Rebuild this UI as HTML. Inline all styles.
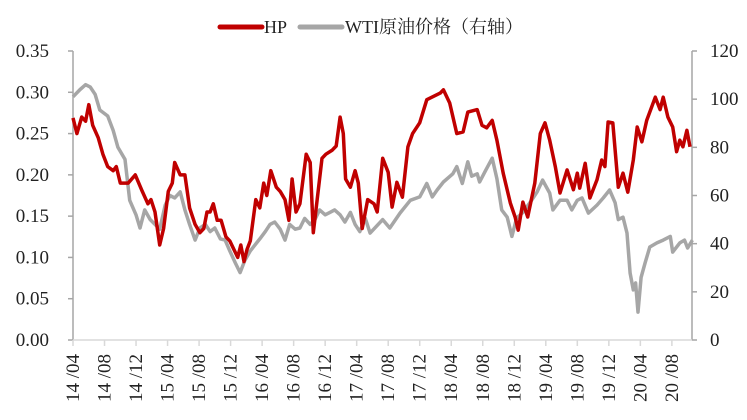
<!DOCTYPE html>
<html><head><meta charset="utf-8"><style>
html,body{margin:0;padding:0;background:#fff;}
svg{display:block;font-family:'Liberation Serif','Noto Serif CJK SC',serif;}
svg text{font-family:'Liberation Serif','Noto Serif CJK SC',serif;fill:#222;}
</style></head><body>
<svg id="chart" width="747" height="420" font-family="Liberation Serif, Noto Serif CJK SC, serif">
<g id="axes"></g>
<g id="series"></g>
<g id="legend">
  <line x1="220" y1="27" x2="262" y2="27" stroke="#c00000" stroke-width="5" stroke-linecap="round"/>
  <text x="264" y="33" font-size="18" font-family="Liberation Serif, serif">HP</text>
  <line x1="300" y1="27" x2="342" y2="27" stroke="#a6a6a6" stroke-width="5" stroke-linecap="round"/>
  <text x="345" y="33" font-size="18" font-family="Liberation Serif, Noto Serif CJK SC, serif">WTI原油价格（右轴）</text>
</g>
</svg>
<script>
const tickLabels = ["14/04","14/08","14/12","15/04","15/08","15/12","16/04","16/08","16/12","17/04","17/08","17/12","18/04","18/08","18/12","19/04","19/08","19/12","20/04","20/08"];
const leftTicks = [0,0.05,0.10,0.15,0.20,0.25,0.30,0.35];
const rightTicks = [0,20,40,60,80,100,120];
const hpMonths = [0,0.5,1.1,1.6,2.0,2.5,3.2,3.8,4.4,5.1,5.5,6.0,7.0,7.9,8.8,9.5,9.9,10.4,11.0,11.5,12.1,12.6,12.9,13.6,14.2,14.8,15.5,16.1,16.6,17.0,17.4,17.8,18.3,18.8,19.4,19.9,20.4,20.9,21.3,21.7,22.1,22.5,23.2,23.7,24.2,24.6,25.1,25.8,26.3,26.9,27.4,27.8,28.3,28.8,29.6,30.1,30.5,31.6,32.1,32.9,33.4,33.9,34.3,34.6,35.2,35.8,36.2,36.7,37.4,38.2,38.6,39.3,40.0,40.5,41.1,41.8,42.5,43.1,44.0,44.9,46.6,47.0,47.8,48.7,49.5,50.1,51.3,51.9,52.5,53.2,53.8,54.6,55.5,56.1,56.5,57.1,57.7,58.6,59.3,59.9,60.5,61.2,61.8,62.7,63.5,64.0,64.3,65.0,65.6,66.5,67.1,67.5,67.9,68.5,69.2,69.8,70.4,71.1,71.6,72.2,72.8,73.9,74.5,74.9,75.5,76.1,76.6,77.0,77.4,77.9,78.3];
const hpValues = [.269,.25,.27,.265,.285,.26,.245,.225,.21,.205,.21,.19,.19,.20,.18,.165,.17,.155,.115,.135,.18,.19,.215,.20,.20,.16,.14,.13,.135,.155,.155,.165,.145,.145,.125,.12,.11,.10,.115,.095,.11,.12,.17,.16,.19,.175,.205,.185,.18,.17,.145,.195,.155,.165,.225,.215,.13,.22,.225,.23,.235,.27,.25,.195,.185,.205,.19,.135,.17,.165,.155,.22,.203,.161,.191,.173,.234,.25,.263,.291,.299,.303,.287,.25,.252,.276,.279,.26,.257,.266,.242,.202,.166,.149,.133,.167,.149,.19,.25,.263,.242,.21,.178,.206,.182,.202,.184,.214,.172,.194,.218,.21,.264,.263,.185,.202,.179,.218,.258,.24,.266,.294,.279,.294,.27,.258,.228,.242,.234,.254,.234];
const wtiMonths = [0,0.9,1.6,2.2,2.8,3.4,4.4,5.1,5.7,6.6,7.2,8.0,8.5,9.1,9.8,10.4,11.0,11.7,12.3,12.9,13.6,14.2,14.8,15.5,16.1,16.8,17.4,18.0,18.7,19.3,19.9,20.6,21.2,21.8,22.5,23.1,23.7,24.4,25.0,25.6,26.3,26.9,27.5,28.2,28.8,29.4,30.1,30.7,31.3,32.0,32.6,33.2,33.9,34.5,35.2,35.8,36.4,37.1,37.7,39.3,40.2,41.5,42.8,44.0,44.9,45.6,46.2,47.0,48.2,48.7,49.4,50.1,50.6,51.3,51.6,52.3,53.2,53.8,54.4,55.1,55.7,56.3,57.1,58.2,58.9,59.6,60.5,60.9,61.8,62.7,63.3,64.0,64.6,65.4,66.5,67.3,68.1,68.8,69.2,69.8,70.3,70.7,71.1,71.4,71.7,72.1,72.6,73.2,74.1,74.9,75.8,76.1,77.0,77.6,78.0,78.6];
const wtiValues = [101,104,106,105,102,95.5,93,87,80,75,58,52,46.5,54,50,48,46,56,60,59,61.5,54,48,41.5,46.5,48,45,46.5,42,41.5,37,32,28,33,37,39.5,42,45,48,49,46,41.5,48,46,46.5,50.5,48,50,54,52,53,54,52,49,53,48,45,50.5,44.4,50,46.5,52.7,58,59.4,65,59.4,62.3,65.6,69,72,65,74,68,69,65.6,70,75.5,67,54,51,43,50.6,53,58,61.5,66.4,61,54,58,58,54,58,59,52.7,56,59,62.3,57,50,51,44.4,27.8,20.8,23.7,11.6,26,32,38.6,40.3,41.5,43,36.5,40.3,41.5,38.2,41.5];

const X0=73, PXM=7.88, YB=340, YT=51, XR=692;
const xS = m => X0 + m*PXM;
const yL = v => YB - v/0.35*(YB-YT);
const yR = v => YB - v/120*(YB-YT);
const NS="http://www.w3.org/2000/svg";
const FF="Liberation Serif, serif";
const axes=document.getElementById('axes'), series=document.getElementById('series');
function mk(tag, attrs, parent){const e=document.createElementNS(NS,tag);for(const k in attrs)e.setAttribute(k,attrs[k]);parent.appendChild(e);return e;}

let e;
e=mk('line',{x1:X0,y1:YT,x2:X0,y2:YB,stroke:'#a6a6a6','stroke-width':1.5},axes);


e=mk('line',{x1:XR,y1:YT,x2:XR,y2:YB,stroke:'#a6a6a6','stroke-width':1.5},axes);


e=mk('line',{x1:X0,y1:YB,x2:XR,y2:YB,stroke:'#d9d9d9','stroke-width':1.5},axes);



leftTicks.forEach(v=>{
  const y=yL(v);
  e=mk('line',{x1:X0-5,y1:y,x2:X0,y2:y,stroke:'#a6a6a6','stroke-width':1.5},axes);
  
  
  e=mk('text',{x:49,y:y+6,'text-anchor':'end','font-size':19,'font-family':FF},axes);
  e.textContent=v.toFixed(2);
  
  
});
rightTicks.forEach(v=>{
  const y=yR(v);
  e=mk('line',{x1:XR,y1:y,x2:XR+5,y2:y,stroke:'#a6a6a6','stroke-width':1.5},axes);
  
  
  e=mk('text',{x:710,y:y+6,'font-size':19,'font-family':FF},axes);
  e.textContent=String(v);
  
  
});
tickLabels.forEach((l,i)=>{
  const x=xS(i*4);
  e=mk('line',{x1:x,y1:YB,x2:x,y2:YB+6,stroke:'#d9d9d9','stroke-width':1.5},axes);
  
  
  e=mk('text',{x:0,y:0,'text-anchor':'end','font-size':19,'font-family':FF,transform:`translate(${x+6},${YB+14}) rotate(-90)`},axes);
  e.textContent=l.replace('/',' /');
  
  
});

function path(ms,vs,ys){return ms.map((m,i)=>(i?'L':'M')+xS(m).toFixed(1)+','+ys(vs[i]).toFixed(1)).join('');}
e=mk('path',{d:path(wtiMonths,wtiValues,yR),fill:'none',stroke:'#a6a6a6','stroke-width':3.5,'stroke-linejoin':'round'},series);


e=mk('path',{d:path(hpMonths,hpValues,yL),fill:'none',stroke:'#c00000','stroke-width':3.5,'stroke-linejoin':'round'},series);


</script>
</body></html>
